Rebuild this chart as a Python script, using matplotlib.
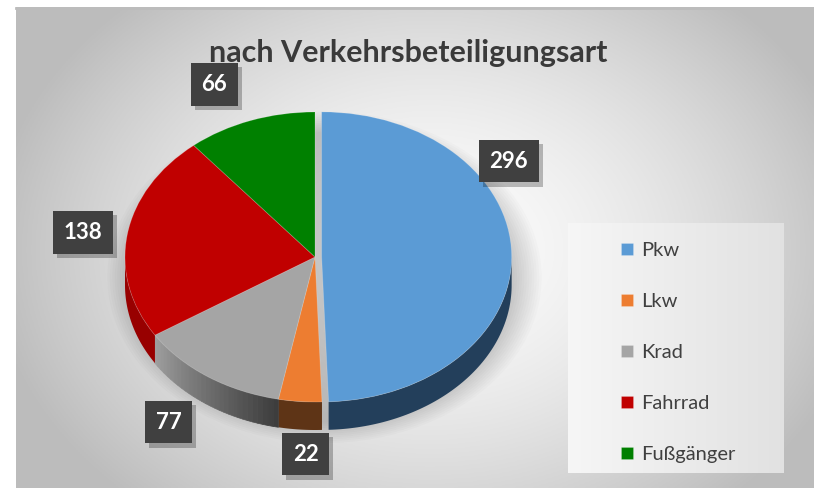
import numpy as np
import matplotlib as mpl
mpl.use("Agg")
import matplotlib.pyplot as plt
from matplotlib.patches import Polygon, Ellipse
import matplotlib.patheffects as pe

plt.rcParams['font.family'] = ['Lato', 'DejaVu Sans']

# data
names = ['Pkw', 'Lkw', 'Krad', 'Fahrrad', 'Fußgänger']
values = [296, 22, 77, 138, 66]
top_colors = ['#5B9BD5', '#ED7D31', '#A5A5A5', '#C00000', '#008000']
side_colors = ['#233F5B', '#5E3416', None, '#980000', '#005500']
explode = [0.035, 0, 0, 0, 0]
title = 'nach Verkehrsbeteiligungsart'

# label box positions (pie units)
label_xy = [(1.02, 0.66), (-0.05, -1.36), (-0.77, -1.14), (-1.22, 0.17), (-0.53, 1.19)]

W, H = 814, 488
fig = plt.figure(figsize=(W / 100, H / 100), dpi=100)
fig.patch.set_facecolor('white')

# background (pixel coords)
bg = fig.add_axes([0, 0, 1, 1])
bg.set_xlim(0, W)
bg.set_ylim(H, 0)
bg.axis('off')
gx, gy = np.meshgrid(np.linspace(16, W, 400), np.linspace(7, H, 240))
r = np.sqrt(((gx - 430) / 430) ** 2 + ((gy - 250) / 330) ** 2)
g = np.clip(0.99 - 0.24 * r ** 1.6, 0.74, 1.0)
bg.imshow(np.dstack([g, g, g]), extent=(16, W, H, 7), aspect='auto', zorder=0)
bg.plot([16, W], [8, 8], color='#bcbcbc', lw=2, zorder=1)

# legend box
lx = np.linspace(0, 1, 100)
lg = 0.965 - 0.08 * lx
bg.imshow(np.dstack([lg, lg, lg]), extent=(568, 784, 473, 223),
          aspect='auto', zorder=1)

# pie axes: x unit = 190 px, y unit = 145 px
cx, cy, rx, ry = 315, 257, 190, 145
x0, x1, y0, y1 = -1.5, 1.5, -1.55, 1.45
ax = fig.add_axes([(cx + x0 * rx) / W, (H - cy + y0 * ry) / H,
                   (x1 - x0) * rx / W, (y1 - y0) * ry / H])
ax.patch.set_alpha(0)

# soft shadow
for i in range(12):
    s = 1.0 + 0.013 * i
    ax.add_patch(Ellipse((0.05, -0.14), 2 * s, 2 * s, color='black',
                         alpha=0.016, lw=0, zorder=0))

wedges, _ = ax.pie(values, colors=top_colors, startangle=90, counterclock=False,
                   explode=explode, wedgeprops=dict(linewidth=0.6, edgecolor='#ffffff33'))
for w in wedges:
    w.set_zorder(3)
ax.set_aspect('auto')
ax.set_xlim(x0, x1)
ax.set_ylim(y0, y1)
ax.axis('off')

depth = 28 / ry


def visible(a1, a2):
    out = []
    for k in (-360, 0, 360):
        lo, hi = max(a1 + k, 180), min(a2 + k, 360)
        if hi > lo:
            out.append((lo, hi))
    return out


for i, w in enumerate(wedges):
    ox, oy = w.center
    for lo, hi in visible(w.theta1, w.theta2):
        if side_colors[i] is None:
            # shaded side (gradient)
            edges = np.linspace(lo, hi, 30)
            for j in range(len(edges) - 1):
                t = np.radians(np.linspace(edges[j], edges[j + 1], 5))
                f = j / (len(edges) - 2)
                c = 0.62 - 0.38 * f
                xs = ox + np.cos(t)
                ys = oy + np.sin(t)
                pts = np.r_[np.c_[xs, ys], np.c_[xs[::-1], ys[::-1] - depth]]
                ax.add_patch(Polygon(pts, closed=True, fc=(c, c, c), ec=(c, c, c),
                                     lw=0.5, zorder=2))
        else:
            t = np.radians(np.linspace(lo, hi, 80))
            xs = ox + np.cos(t)
            ys = oy + np.sin(t)
            pts = np.r_[np.c_[xs, ys], np.c_[xs[::-1], ys[::-1] - depth]]
            ax.add_patch(Polygon(pts, closed=True, fc=side_colors[i], ec='none', zorder=2))

# data labels
for (lx_, ly_), v in zip(label_xy, values):
    t = ax.text(lx_, ly_, str(v), ha='center', va='center', fontsize=16,
                fontweight='bold', color='white', zorder=6,
                bbox=dict(boxstyle='square,pad=0.48', fc='#404040', ec='none'))
    t.get_bbox_patch().set_path_effects([
        pe.SimplePatchShadow(offset=(3, -3), shadow_rgbFace='black', alpha=0.25),
        pe.Normal()])

fig.text(408 / W, 1 - 62 / H, title, ha='center', va='baseline', fontsize=22,
         fontweight='bold', color='#3a3a3a')

leg = bg.legend(wedges, names, loc='upper left', bbox_to_anchor=(621, 242),
                bbox_transform=bg.transData, frameon=False, fontsize=14.5,
                handlelength=0.6, handleheight=0.6, handletextpad=0.4,
                labelspacing=1.69, borderpad=0, borderaxespad=0)
for txt in leg.get_texts():
    txt.set_color('#404040')
leg.set_zorder(5)

fig.savefig('out.png', dpi=100)
